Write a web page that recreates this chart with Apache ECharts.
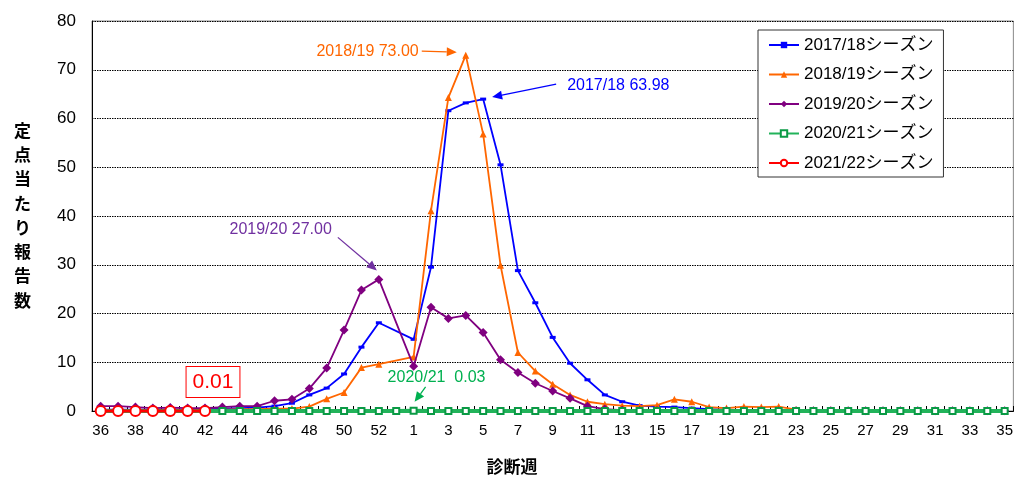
<!DOCTYPE html>
<html><head><meta charset="utf-8">
<script src="https://cdn.jsdelivr.net/npm/echarts@6/dist/echarts.min.js"></script>
<style>html,body{margin:0;padding:0;background:#fff}#c{width:1016px;height:477px}</style>
</head><body><div id="c"></div>
<script>
// Diagnosis weeks (36..53, 1..35)
const weeks = ['36','37','38','39','40','41','42','43','44','45','46','47','48','49','50','51','52','53',
  '1','2','3','4','5','6','7','8','9','10','11','12','13','14','15','16','17','18','19','20',
  '21','22','23','24','25','26','27','28','29','30','31','32','33','34','35'];
const yTicks = [0,10,20,30,40,50,60,70,80];
const seriesNames = ['2017/18シーズン','2018/19シーズン','2019/20シーズン','2020/21シーズン','2021/22シーズン'];

const s2017 = [0.3,0.3,0.3,0.3,0.3,0.3,0.4,0.5,0.6,0.7,1.0,1.6,3.3,4.7,7.6,13.1,18.1,null,
  14.7,29.5,61.6,63.2,63.98,50.5,28.8,22.2,15.1,9.8,6.4,3.3,1.9,1.1,0.9,0.8,0.6,0.4,0.3,0.2,
  0.2,0.2,0.1,0.1,0.1,0.1,0.1,0.1,0.1,0.1,0.1,0.1,0.1,0.1,0.1];
const s2018 = [0.2,0.2,0.2,0.2,0.2,0.2,0.3,0.3,0.4,0.4,0.5,0.5,0.9,2.5,3.8,8.9,9.6,null,
  11.1,41.1,64.3,73.0,56.8,29.9,12.0,8.2,5.5,3.3,1.9,1.4,1.1,1.0,1.2,2.4,1.9,0.8,0.6,0.9,
  0.8,0.9,0.3,0.2,0.2,0.1,0.1,0.1,0.1,0.1,0.1,0.1,0.1,0.1,0.1];
const s2019 = [1.0,1.0,0.8,0.6,0.7,0.6,0.6,0.8,1.0,1.0,2.1,2.4,4.6,8.8,16.6,24.8,27.0,null,
  9.2,21.3,19.0,19.6,16.1,10.5,7.9,5.7,4.1,2.6,1.0,0.4,0.2,0.1,0.1,0.05,0.05,0.05,0.05,0.05,
  0.05,0.05,0.05,0.05,0.05,0.05,0.05,0.05,0.05,0.05,0.05,0.05,0.05,0.05,0.05];
const s2020 = [0.02,0.02,0.02,0.02,0.02,0.02,0.02,0.02,0.02,0.02,0.02,0.02,0.02,0.02,0.02,0.02,0.02,0.02,
  0.03,0.02,0.02,0.02,0.02,0.02,0.02,0.02,0.02,0.02,0.02,0.02,0.02,0.02,0.02,0.02,0.02,0.02,0.02,0.02,
  0.02,0.02,0.02,0.02,0.02,0.02,0.02,0.02,0.02,0.02,0.02,0.02,0.02,0.02,0.02];
const s2021 = [0.0,0.0,0.0,0.0,0.0,0.01,0.01];

const colors = ['#0000FF','#FF6600','#800080','#00B050','#FF0000'];
const FONT = "'Liberation Sans','Noto Sans CJK JP',sans-serif";

const chart = echarts.init(document.getElementById('c'), null, {renderer:'canvas'});

const option = {
  animation: false,
  backgroundColor: '#fff',
  grid: {left: 92, right: 1, top: 21, bottom: 66, show: true, borderColor: '#888', borderWidth: 1, backgroundColor: 'transparent'},
  legend: {
    orient: 'vertical', left: 758, top: 30,
    padding: [6, 10, 5, 10], itemGap: 11.5, itemWidth: 30, itemHeight: 8,
    borderColor: '#333', borderWidth: 1, backgroundColor: '#fff',
    textStyle: {fontFamily: FONT, fontSize: 17, color: '#000', lineHeight: 18},
    data: seriesNames
  },
  xAxis: {
    type: 'category', data: weeks, boundaryGap: true,
    axisLine: {lineStyle: {color: '#000', width: 1}},
    axisTick: {show: true, inside: true, length: 5, interval: 0, lineStyle: {color: '#000'}},
    axisLabel: {interval: 1, color: '#000', fontFamily: FONT, fontSize: 15, margin: 12},
    splitLine: {show: false}
  },
  yAxis: {
    type: 'value', min: yTicks[0], max: yTicks[yTicks.length-1], interval: 10,
    axisLine: {show: true, lineStyle: {color: '#000', width: 1}},
    axisTick: {show: false},
    axisLabel: {color: '#000', fontFamily: FONT, fontSize: 17, margin: 16},
    splitLine: {show: true, lineStyle: {color: '#000', type: [1.5, 1], width: 1}}
  },
  series: [
    {name: seriesNames[0], type: 'line', data: s2017, connectNulls: true, symbol: 'rect', symbolSize: [6, 3],
      lineStyle: {color: colors[0], width: 1.8}, itemStyle: {color: colors[0]}, z: 2},
    {name: seriesNames[1], type: 'line', data: s2018, connectNulls: true, symbol: 'triangle', symbolSize: 7,
      lineStyle: {color: colors[1], width: 1.8}, itemStyle: {color: colors[1]}, z: 3},
    {name: seriesNames[2], type: 'line', data: s2019, connectNulls: true, symbol: 'diamond', symbolSize: 9,
      lineStyle: {color: colors[2], width: 1.8}, itemStyle: {color: colors[2]}, z: 4},
    {name: seriesNames[3], type: 'line', data: s2020, symbol: 'emptyRect', symbolSize: 6, clip: false,
      lineStyle: {color: '#22B35A', width: 4}, itemStyle: {color: '#0A9A45', borderWidth: 1.2}, z: 10},
    {name: seriesNames[4], type: 'line', data: s2021, symbol: 'emptyCircle', symbolSize: 10, clip: false,
      lineStyle: {color: colors[4], width: 3}, itemStyle: {color: colors[4], borderWidth: 1.5}, z: 11}
  ]
};
chart.setOption(option);

// annotations anchored to data points
const annotations = [
  {s: 1, idx: 21, text: '2018/19 73.00', color: '#FF6600', tip: [-9, -3], start: [-44, -4], tx: -47, ty: -4, align: 'right'},
  {s: 0, idx: 22, text: '2017/18 63.98', color: '#0000FF', tip: [9, -2], start: [73, -15], tx: 84, ty: -14, align: 'left'},
  {s: 2, idx: 16, text: '2019/20 27.00', color: '#7030A0', tip: [-2, -9], start: [-41, -42], tx: -47, ty: -50, align: 'right'},
  {s: 3, idx: 18, text: '2020/21  0.03', color: '#00B050', tip: [1, -9], start: [12, -24], tx: -26, ty: -33, align: 'left'}
];
const allSeries = [s2017, s2018, s2019, s2020, s2021];
const graphics = [];
annotations.forEach(a => {
  const p = chart.convertToPixel({seriesIndex: a.s}, [a.idx, allSeries[a.s][a.idx]]);
  const tip = [p[0] + a.tip[0], p[1] + a.tip[1]];
  const st = [p[0] + a.start[0], p[1] + a.start[1]];
  const dx = tip[0] - st[0], dy = tip[1] - st[1];
  const len = Math.sqrt(dx*dx + dy*dy);
  const ux = dx/len, uy = dy/len;
  const hl = 10, hw = 4.5;
  const base = [tip[0] - ux*hl, tip[1] - uy*hl];
  graphics.push({type: 'line', shape: {x1: st[0], y1: st[1], x2: base[0], y2: base[1]}, style: {stroke: a.color, lineWidth: 1.3}, z: 100});
  graphics.push({type: 'polygon', shape: {points: [tip, [base[0] - uy*hw, base[1] + ux*hw], [base[0] + uy*hw, base[1] - ux*hw]]}, style: {fill: a.color}, z: 100});
  graphics.push({type: 'text', x: p[0] + a.tx, y: p[1] + a.ty, style: {text: a.text, fill: a.color, font: "16px 'Liberation Sans','Noto Sans CJK JP',sans-serif", textAlign: a.align, textVerticalAlign: 'middle'}, z: 100});
});
// 0.01 boxed label near the 2021/22 latest point
const pr = chart.convertToPixel({seriesIndex: 4}, [6, s2021[6]]);
graphics.push({type: 'text', x: pr[0] + 8, y: pr[1] - 29, style: {text: '0.01', fill: '#FF0000', font: "21px 'Liberation Sans',sans-serif", textAlign: 'center', textVerticalAlign: 'middle', borderColor: '#FF0000', borderWidth: 1, padding: [5, 6, 4, 6], backgroundColor: '#fff'}, z: 100});
// axis names
graphics.push({type: 'text', left: 14, top: 118, style: {text: '定\n点\n当\nた\nり\n報\n告\n数', fill: '#000', font: "bold 17px 'Noto Sans CJK JP',sans-serif", lineHeight: 24.3, textAlign: 'left'}, z: 100});
graphics.push({type: 'text', x: 512, y: 467, style: {text: '診断週', fill: '#000', font: "bold 17px 'Noto Sans CJK JP',sans-serif", textAlign: 'center', textVerticalAlign: 'middle'}, z: 100});
chart.setOption({graphic: graphics});
</script></body></html>
